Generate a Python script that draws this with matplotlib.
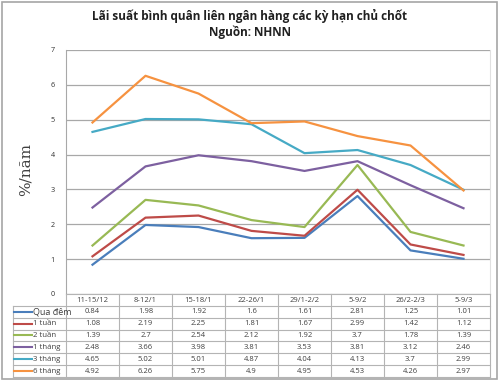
import matplotlib
matplotlib.use("Agg")
import matplotlib.pyplot as plt
from matplotlib.lines import Line2D
from matplotlib.patches import Rectangle

categories = ["11-15/12", "8-12/1", "15-18/1", "22-26/1", "29/1-2/2", "5-9/2", "26/2-2/3", "5-9/3"]
series_names = ["Qua đêm", "1 tuần", "2 tuần", "1 tháng", "3 tháng", "6 tháng"]
qua_dem = [0.84, 1.98, 1.92, 1.6, 1.61, 2.81, 1.25, 1.01]
tuan_1 = [1.08, 2.19, 2.25, 1.81, 1.67, 2.99, 1.42, 1.12]
tuan_2 = [1.39, 2.7, 2.54, 2.12, 1.92, 3.7, 1.78, 1.39]
thang_1 = [2.48, 3.66, 3.98, 3.81, 3.53, 3.81, 3.12, 2.46]
thang_3 = [4.65, 5.02, 5.01, 4.87, 4.04, 4.13, 3.7, 2.99]
thang_6 = [4.92, 6.26, 5.75, 4.9, 4.95, 4.53, 4.26, 2.97]
series = [qua_dem, tuan_1, tuan_2, thang_1, thang_3, thang_6]
colors = ["#4A7EBB", "#BE4B48", "#98B954", "#7D60A0", "#46AAC5", "#F69240"]
yticks = [0, 1, 2, 3, 4, 5, 6, 7]

W, H = 500, 382
fig = plt.figure(figsize=(5.0, 3.82), dpi=100)
fig.patch.set_facecolor("white")


def fx(px):
    return px / W


def fy(py):
    return 1 - py / H


fig.add_artist(Rectangle((fx(2), fy(379)), 495 / W, 377 / H, transform=fig.transFigure,
                         fill=False, edgecolor="#A6A6A6", lw=1.2))

x0, x1, ytop, ybot = 66, 490, 50, 294
ax = fig.add_axes([fx(x0), fy(ybot), (x1 - x0) / W, (ybot - ytop) / H])
xs = list(range(len(categories)))
for vals, c in zip(series, colors):
    ax.plot(xs, vals, color=c, lw=1.6, solid_joinstyle="round")
ax.set_xlim(-0.5, len(categories) - 0.5)
ax.set_ylim(-0.001, 7)
ax.set_yticks(yticks)
ax.set_yticklabels([str(v) for v in yticks], fontsize=5.2, color="#303030", family="Open Sans")
ax.tick_params(axis="y", length=0, pad=8)
ax.set_xticks([])
ax.grid(axis="y", color="#A8A8A8", lw=0.9)
ax.set_axisbelow(True)
for s in ["top", "bottom"]:
    ax.spines[s].set_visible(False)
ax.spines["left"].set_color("#A8A8A8")
ax.spines["right"].set_color("#E0E0E0")

fig.text(fx(26), fy(170), "%/năm", rotation=90, ha="center", va="center",
         fontsize=11, family="DejaVu Serif", color="#404040")

fig.text(fx(250), fy(16), "Lãi suất bình quân liên ngân hàng các kỳ hạn chủ chốt",
         ha="center", va="center", fontsize=8.5, fontweight="bold", family="Open Sans", color="#202020")
fig.text(fx(250), fy(32), "Nguồn: NHNN", ha="center", va="center",
         fontsize=8.5, fontweight="bold", family="Open Sans", color="#202020")

# data table drawn manually in pixel layout
grid_c = "#B4B4B4"
col_w = (x1 - x0) / len(categories)
lab_x0 = 13
row_h = 11.9
hdr_top = ybot
hdr_bot = 305.7
tab_bot = hdr_bot + row_h * len(series_names)


def hline(xa, xb, y):
    fig.add_artist(Line2D([fx(xa), fx(xb)], [fy(y), fy(y)], color=grid_c, lw=0.8,
                          transform=fig.transFigure))


def vline(x, ya, yb):
    fig.add_artist(Line2D([fx(x), fx(x)], [fy(ya), fy(yb)], color=grid_c, lw=0.8,
                          transform=fig.transFigure))


hline(x0, x1, hdr_top)
for i in range(len(series_names) + 1):
    hline(lab_x0, x1, hdr_bot + i * row_h)
for k in range(len(categories) + 1):
    vline(x0 + k * col_w, hdr_top, tab_bot)
vline(lab_x0, hdr_bot, tab_bot)

for k, cat in enumerate(categories):
    fig.text(fx(x0 + (k + 0.5) * col_w), fy((hdr_top + hdr_bot) / 2 + 0.3), cat, ha="center", va="center",
             fontsize=5.5, family="Open Sans", color="#404040")

for i, (name, vals, c) in enumerate(zip(series_names, series, colors)):
    yc = hdr_bot + (i + 0.5) * row_h
    fig.add_artist(Line2D([fx(14), fx(32)], [fy(yc), fy(yc)], color=c, lw=1.5,
                          transform=fig.transFigure))
    fig.text(fx(33), fy(yc + 0.3), name, ha="left", va="center",
             fontsize=6.5 if i == 0 else 5.6, family="Open Sans", color="#404040")
    for k, v in enumerate(vals):
        fig.text(fx(x0 + (k + 0.5) * col_w), fy(yc + 0.3), "%g" % v, ha="center", va="center",
                 fontsize=5.5, family="Open Sans", color="#404040")

fig.savefig("out.png", dpi=100, facecolor="white")
